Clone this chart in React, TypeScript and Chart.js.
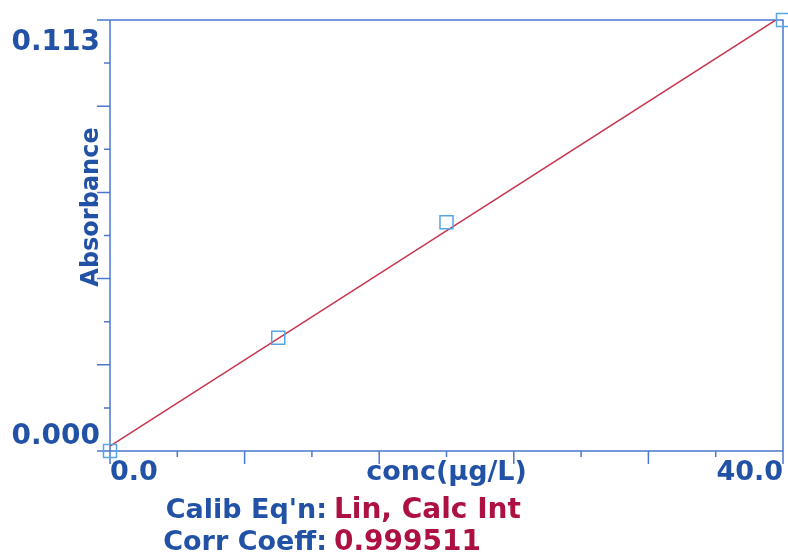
import React, { useEffect, useRef } from "react";
import { Chart, registerables } from "chart.js";

Chart.register(...registerables);

// ---- Data ----
const concentrations = [0, 10, 20, 40];
const absorbances = [0.0, 0.0297, 0.06, 0.113];
const fitLineX = [0, 40];
const fitLineY = [0.0013, 0.1142];

const xTicks = [0, 4, 8, 12, 16, 20, 24, 28, 32, 36, 40];
const yTicks = [0, 0.0113, 0.0226, 0.0339, 0.0452, 0.0565, 0.0678, 0.0791, 0.0904, 0.1017, 0.113];

const xLabelValues = [0, 20, 40];
const xLabelTexts = ["0.0", "conc(µg/L)", "40.0"];
const yLabelValues = [0, 0.113];
const yLabelTexts = ["0.000", "0.113"];
const yTitle = "Absorbance";

const infoLabels = ["Calib Eq'n:", "Corr Coeff:"];
const infoValues = ["Lin, Calc Int", "0.999511"];

// ---- Styles ----
const BLUE_TEXT = "#2252a6";
const RED_TEXT = "#ad1141";
const AXIS_COLOR = "#4a78cf";
const LINE_COLOR = "#c8344f";
const MARKER_COLOR = "#55a6e6";
const FONT = "'DejaVu Sans', 'Verdana', sans-serif";

const axesPlugin = {
  id: "calibAxes",
  beforeDatasetsDraw(chart: any) {
    const { ctx, chartArea: a, scales } = chart;
    const x = scales.x;
    const y = scales.y;
    ctx.save();
    ctx.strokeStyle = AXIS_COLOR;
    ctx.lineWidth = 1.5;
    ctx.beginPath();
    ctx.rect(a.left, a.top, a.right - a.left, a.bottom - a.top);
    yTicks.forEach((v, i) => {
      const py = y.getPixelForValue(v);
      const len = i % 2 === 0 ? 13 : 6;
      ctx.moveTo(a.left, py);
      ctx.lineTo(a.left - len, py);
    });
    xTicks.forEach((v, i) => {
      const px = x.getPixelForValue(v);
      const len = i % 2 === 0 ? 13 : 6;
      ctx.moveTo(px, a.bottom);
      ctx.lineTo(px, a.bottom + len);
    });
    ctx.stroke();
    ctx.restore();
  },
  afterDraw(chart: any) {
    const { ctx, chartArea: a, scales } = chart;
    const x = scales.x;
    const y = scales.y;
    ctx.save();
    ctx.fillStyle = BLUE_TEXT;
    ctx.textBaseline = "alphabetic";

    // y tick labels (inside the range: top one below the top tick, bottom one above)
    ctx.font = `bold 28px ${FONT}`;
    ctx.textAlign = "right";
    yLabelValues.forEach((v, i) => {
      const py = y.getPixelForValue(v);
      const isTop = i === yLabelValues.length - 1;
      ctx.fillText(yLabelTexts[i], a.left - 10, isTop ? py + 30 : py - 7);
    });

    // x tick labels / axis title
    ctx.font = `bold 27px ${FONT}`;
    xLabelValues.forEach((v, i) => {
      const px = x.getPixelForValue(v);
      ctx.textAlign = i === 0 ? "left" : i === xLabelValues.length - 1 ? "right" : "center";
      ctx.fillText(xLabelTexts[i], px, a.bottom + 29);
    });

    // y axis title
    ctx.save();
    ctx.font = `bold 24px ${FONT}`;
    ctx.translate(a.left - 12, 207);
    ctx.rotate(-Math.PI / 2);
    ctx.textAlign = "center";
    ctx.fillText(yTitle, 0, 0);
    ctx.restore();

    // calibration info
    infoLabels.forEach((lab, i) => {
      const by = a.bottom + 67 + i * 32;
      ctx.font = `bold 27px ${FONT}`;
      ctx.fillStyle = BLUE_TEXT;
      ctx.textAlign = "right";
      ctx.fillText(lab, 327, by);
      ctx.font = `bold 28px ${FONT}`;
      ctx.fillStyle = RED_TEXT;
      ctx.textAlign = "left";
      ctx.fillText(infoValues[i], 334, by);
    });
    ctx.restore();
  },
};

export default function App() {
  const canvasRef = useRef<HTMLCanvasElement | null>(null);

  useEffect(() => {
    const canvas = canvasRef.current;
    if (!canvas) return;
    const chart = new Chart(canvas, {
      type: "scatter",
      data: {
        datasets: [
          {
            type: "line",
            label: "fit",
            data: fitLineX.map((v, i) => ({ x: v, y: fitLineY[i] })),
            borderColor: LINE_COLOR,
            borderWidth: 1.5,
            pointRadius: 0,
            fill: false,
            clip: 0,
            order: 2,
          } as any,
          {
            type: "scatter",
            label: "standards",
            data: concentrations.map((v, i) => ({ x: v, y: absorbances[i] })),
            pointStyle: "rect",
            pointRadius: 9.2,
            pointBorderWidth: 1.5,
            borderColor: MARKER_COLOR,
            backgroundColor: "rgba(0,0,0,0)",
            clip: false,
            order: 1,
          } as any,
        ],
      },
      options: {
        responsive: false,
        animation: false,
        layout: { autoPadding: false, padding: { left: 110, top: 20, right: 5, bottom: 108 } },
        plugins: { legend: { display: false }, tooltip: { enabled: false } },
        scales: {
          x: { type: "linear", min: 0, max: 40, display: false },
          y: { type: "linear", min: 0, max: 0.113, display: false },
        },
      },
      plugins: [axesPlugin],
    });
    return () => chart.destroy();
  }, []);

  return (
    <div style={{ position: "absolute", left: 0, top: 0, width: 788, height: 559, background: "#ffffff" }}>
      <canvas ref={canvasRef} width={788} height={559} />
    </div>
  );
}
